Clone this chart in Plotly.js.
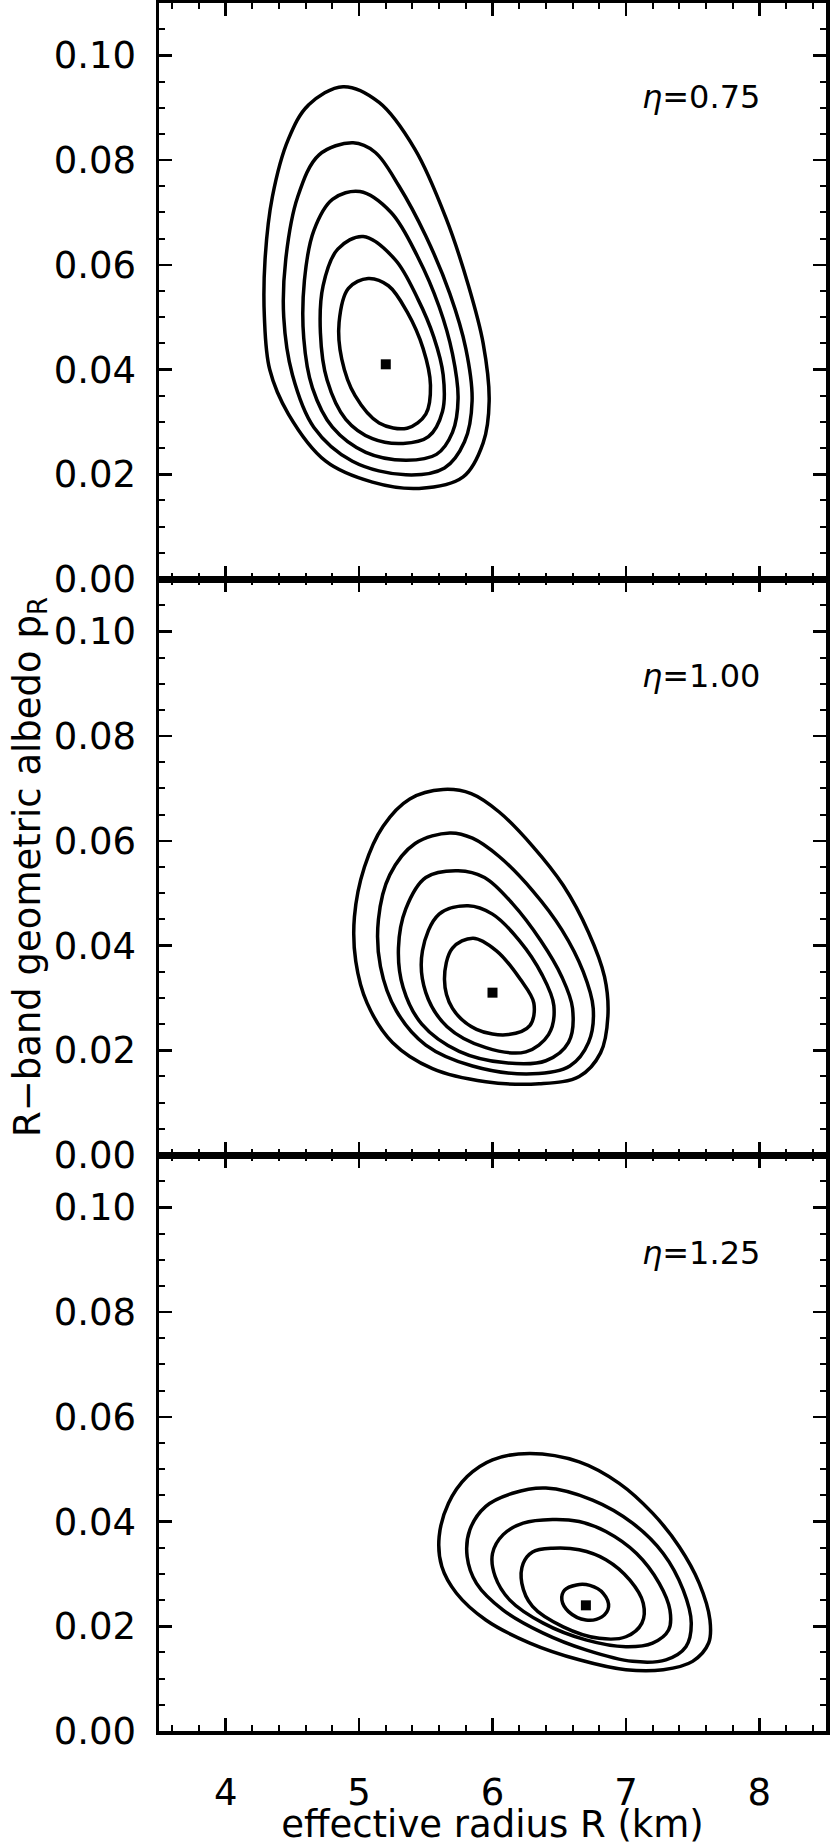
<!DOCTYPE html>
<html>
<head>
<meta charset="utf-8">
<script src="https://cdn.plot.ly/plotly-3.0.1.min.js"></script>
<style>body{margin:0;background:#fff}</style>
</head>
<body>
<div id="chart" style="width:830px;height:1846px"></div>
<script>
// chi-square contours (R in km, p_R albedo)
// eta = 0.75 (top panel)
var r075 = [
  [4.88,4.62,4.47,4.35,4.295,4.29,4.33,4.47,4.75,5.10,5.45,5.78,5.93,5.975,5.93,5.82,5.65,5.42,5.15],
  [4.955,4.70,4.54,4.45,4.435,4.50,4.66,4.95,5.35,5.64,5.79,5.847,5.80,5.68,5.50,5.30,5.12],
  [5.006,4.80,4.66,4.59,4.585,4.65,4.80,5.05,5.35,5.58,5.70,5.742,5.70,5.60,5.44,5.24],
  [5.031,4.84,4.73,4.71,4.76,4.90,5.10,5.33,5.52,5.625,5.63,5.56,5.44,5.27],
  [5.068,4.92,4.85,4.87,4.97,5.15,5.36,5.50,5.535,5.48,5.36,5.22]
];
var p075 = [
  [0.0940,0.0905,0.0840,0.0730,0.0610,0.0500,0.0400,0.0315,0.0225,0.0185,0.0173,0.0195,0.0260,0.0340,0.0450,0.0560,0.0690,0.0820,0.0910],
  [0.0833,0.0810,0.0730,0.0610,0.0500,0.0390,0.0290,0.0225,0.0199,0.0212,0.0262,0.0340,0.0440,0.0545,0.0655,0.0750,0.0815],
  [0.0740,0.0725,0.0665,0.0570,0.0460,0.0365,0.0290,0.0242,0.0227,0.0238,0.0280,0.0345,0.0430,0.0520,0.0615,0.0700],
  [0.0654,0.0630,0.0560,0.0470,0.0380,0.0305,0.0268,0.0259,0.0272,0.0320,0.0390,0.0462,0.0535,0.0610],
  [0.0574,0.0555,0.0490,0.0420,0.0350,0.0298,0.0288,0.0315,0.0370,0.0440,0.0510,0.0560]
];
// eta = 1.00 (middle panel)
var r100 = [
  [5.63,5.38,5.18,5.04,4.965,4.975,5.06,5.25,5.55,5.95,6.35,6.65,6.81,6.865,6.84,6.72,6.53,6.30,6.05,5.84],
  [5.68,5.42,5.23,5.145,5.16,5.28,5.50,5.85,6.30,6.58,6.72,6.755,6.68,6.52,6.30,6.05,5.85],
  [5.742,5.50,5.35,5.295,5.33,5.47,5.75,6.10,6.40,6.57,6.60,6.52,6.36,6.15,5.94],
  [5.817,5.60,5.475,5.50,5.66,5.95,6.25,6.42,6.46,6.37,6.20,6.00],
  [5.855,5.70,5.64,5.70,5.88,6.12,6.28,6.31,6.21,6.03]
];
var p100 = [
  [0.0698,0.0680,0.0628,0.0550,0.0455,0.0370,0.0290,0.0215,0.0165,0.0140,0.0136,0.0150,0.0195,0.0265,0.0340,0.0425,0.0515,0.0590,0.0655,0.0690],
  [0.0615,0.0595,0.0535,0.0450,0.0360,0.0275,0.0210,0.0170,0.0155,0.0170,0.0215,0.0280,0.0350,0.0430,0.0505,0.0570,0.0605],
  [0.0543,0.0530,0.0470,0.0395,0.0320,0.0250,0.0198,0.0176,0.0180,0.0215,0.0280,0.0340,0.0410,0.0480,0.0530],
  [0.0476,0.0460,0.0390,0.0310,0.0245,0.0205,0.0197,0.0230,0.0285,0.0345,0.0410,0.0460],
  [0.0414,0.0395,0.0335,0.0280,0.0240,0.0230,0.0247,0.0290,0.0335,0.0390]
];
// eta = 1.25 (bottom panel)
var r125 = [
  [6.28,6.00,5.81,5.67,5.60,5.62,5.73,5.95,6.28,6.65,7.00,7.28,7.50,7.62,7.63,7.55,7.40,7.20,6.95,6.65],
  [6.40,6.15,5.95,5.83,5.81,5.88,6.08,6.38,6.70,7.05,7.30,7.45,7.49,7.43,7.28,7.05,6.75],
  [6.45,6.23,6.08,6.00,6.02,6.13,6.38,6.70,7.00,7.20,7.32,7.33,7.25,7.08,6.85,6.65],
  [6.45,6.30,6.23,6.22,6.30,6.53,6.80,7.00,7.12,7.13,7.03,6.85,6.65],
  [6.63,6.54,6.52,6.57,6.70,6.82,6.87,6.83,6.73]
];
var p125 = [
  [0.0530,0.0518,0.0486,0.0435,0.0371,0.0314,0.0263,0.0212,0.0168,0.0136,0.0117,0.0117,0.0133,0.0168,0.0212,0.0282,0.0352,0.0416,0.0473,0.0514],
  [0.0464,0.0454,0.0429,0.0384,0.0333,0.0282,0.0231,0.0187,0.0155,0.0133,0.0136,0.0161,0.0206,0.0269,0.0339,0.0397,0.0441],
  [0.0404,0.0397,0.0375,0.0339,0.0295,0.0250,0.0206,0.0174,0.0161,0.0168,0.0193,0.0231,0.0282,0.0339,0.0381,0.0400],
  [0.0349,0.0342,0.0320,0.0282,0.0238,0.0199,0.0177,0.0180,0.0206,0.0244,0.0288,0.0327,0.0346],
  [0.0279,0.0269,0.0250,0.0228,0.0212,0.0218,0.0237,0.0263,0.0278]
];
// best fits
var etaLabels = ['0.75', '1.00', '1.25'];
var bestR = [5.2, 6.0, 6.7];
var bestP = [0.041, 0.031, 0.024];

var panels = [
  {r: r075, p: p075, xa: 'x3', ya: 'y3'},
  {r: r100, p: p100, xa: 'x2', ya: 'y2'},
  {r: r125, p: p125, xa: 'x', ya: 'y'}
];

var data = [];
panels.forEach(function(pn, k) {
  for (var i = 0; i < pn.r.length; i++) {
    // repeat first point so the spline is drawn as a closed curve
    var xs = pn.r[i].concat([pn.r[i][0]]);
    var ys = pn.p[i].concat([pn.p[i][0]]);
    data.push({x: xs, y: ys, xaxis: pn.xa, yaxis: pn.ya, type: 'scatter', mode: 'lines',
      line: {color: 'black', width: 3.5, shape: 'spline', smoothing: 1}, hoverinfo: 'skip'});
  }
  data.push({x: [bestR[k]], y: [bestP[k]], xaxis: pn.xa, yaxis: pn.ya, type: 'scatter', mode: 'markers',
    marker: {symbol: 'square', size: 10, color: 'black'}});
});

var tickFont = {family: 'DejaVu Sans', size: 37, color: 'black'};

function xax(anchor, labels) {
  return {
    anchor: anchor, range: [3.5, 8.5], tick0: 4, dtick: 1,
    ticks: 'inside', ticklen: 13, tickwidth: 2.5, tickcolor: 'black',
    minor: {dtick: 0.2, ticks: 'inside', ticklen: 6, tickwidth: 2, tickcolor: 'black'},
    showline: true, linewidth: 3.5, linecolor: 'black', mirror: 'ticks',
    showgrid: false, zeroline: false, showticklabels: labels,
    tickfont: tickFont, ticklabelstandoff: 26, automargin: false
  };
}
function yax(anchor, dom) {
  return {
    anchor: anchor, domain: dom, range: [0, 0.11], tick0: 0, dtick: 0.02, tickformat: '.2f',
    ticks: 'inside', ticklen: 13, tickwidth: 2.5, tickcolor: 'black',
    minor: {dtick: 0.005, ticks: 'inside', ticklen: 6, tickwidth: 2, tickcolor: 'black'},
    showline: true, linewidth: 3.5, linecolor: 'black', mirror: 'ticks',
    showgrid: false, zeroline: false,
    tickfont: tickFont, ticklabelstandoff: 12, automargin: false
  };
}

var layout = {
  width: 830, height: 1846,
  margin: {l: 159, r: 4, t: 3, b: 115},
  paper_bgcolor: 'white', plot_bgcolor: 'white',
  showlegend: false,
  font: {family: 'DejaVu Sans', color: 'black'},
  xaxis: xax('y', true),
  xaxis2: xax('y2', false),
  xaxis3: xax('y3', false),
  yaxis: yax('x', [0, 1/3]),
  yaxis2: yax('x2', [1/3, 2/3]),
  yaxis3: yax('x3', [2/3, 1]),
  annotations: []
};
layout.xaxis2.matches = 'x';
layout.xaxis3.matches = 'x';
layout.xaxis.title = {text: 'effective radius R (km)', font: {family: 'DejaVu Sans', size: 37}, standoff: 22};
layout.yaxis2.title = {text: 'R−band geometric albedo p<sub>R</sub>', font: {family: 'DejaVu Sans', size: 37}, standoff: 3};

var annY = [0.092, 0.0915, 0.0912];
panels.forEach(function(pn, k) {
  layout.annotations.push({
    xref: pn.xa, yref: pn.ya, x: 8.02, y: annY[k], xanchor: 'right', yanchor: 'middle',
    text: '<i>η</i>=' + etaLabels[k], showarrow: false,
    font: {family: 'DejaVu Sans', size: 32, color: 'black'}
  });
});

Plotly.newPlot('chart', data, layout, {displayModeBar: false, staticPlot: true});
</script>
</body>
</html>
